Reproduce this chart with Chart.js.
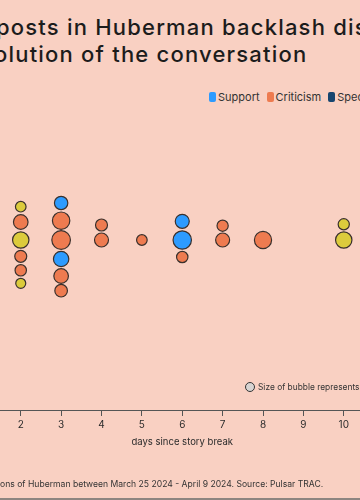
<!DOCTYPE html>
<html>
<head>
<meta charset="utf-8">
<script src="https://cdn.jsdelivr.net/npm/chart.js@4.4.1/dist/chart.umd.min.js"></script>
<style>
    html, body { margin: 0; padding: 0; }
    body {
        width: 360px; height: 500px; overflow: hidden; position: relative;
        background: #f9d0c2; font-family: 'Inter', sans-serif; color: #1c1c1c;
    }
    .title-line {
        position: absolute; white-space: nowrap;
        font-size: 22px; font-weight: 500; line-height: 27.6px; letter-spacing: 1.2px;
    }
    .hidden-part { position: absolute; right: 100%; top: 0; }
    #legend {
        position: absolute; left: 209px; top: 90px; display: flex; white-space: nowrap;
        font-size: 11px; line-height: 14px; color: #333;
    }
    .legend-item { display: flex; align-items: center; margin-right: 7px; }
    .legend-box { width: 7px; height: 10px; border-radius: 2px; margin-right: 2px; }
    #sizeNote {
        position: absolute; left: 245px; top: 380px; display: flex; align-items: center;
        white-space: nowrap; font-size: 8.4px; line-height: 14px; color: #333;
    }
    #sizeNote .dot {
        width: 8px; height: 8px; border-radius: 50%; background: #d8d4d2;
        border: 1px solid #333; margin-right: 3px;
    }
    #footer {
        position: absolute; left: 0; top: 477px; white-space: nowrap;
        font-size: 8.6px; line-height: 14px; color: #333;
    }
    #frame { position: absolute; left: 0; right: 0; top: 498px; height: 2px; background: #8d8580; }
    #chartCanvas { position: absolute; left: -100px; top: 0; }
</style>
</head>
<body>
<div class="title-line" style="left:-4px; top:13.7px;"><span class="hidden-part">Number of&nbsp;</span>posts in Huberman backlash discussion</div>
<div class="title-line" style="left:-6px; top:41.3px;"><span class="hidden-part">Ev</span>olution of the conversation</div>
<div id="legend"></div>
<canvas id="chartCanvas" width="565" height="500"></canvas>
<div id="sizeNote"><span class="dot"></span>Size of bubble represents number of posts</div>
<div id="footer"><span class="hidden-part">Data covers all menti</span>ons of Huberman between March 25 2024 - April 9 2024. Source: Pulsar TRAC.</div>
<div id="frame"></div>

<script>
// ==================== DATA ====================

const categories = ['Support', 'Criticism', 'Speculation', 'Neutral'];
const categoryColors = ['#2d9bff', '#ee7b50', '#17456f', '#dccb3c'];

// days since story break, stacked position within the day, bubble size
const supportDays = [3, 3, 6, 6];
const supportStack = [37, -19, 18.7, 0];
const supportSize = [6.7, 7.7, 7, 9.2];

const criticismDays = [2, 2, 2, 3, 3, 3, 3, 4, 4, 5, 6, 7, 7, 8];
const criticismStack = [18, -16.3, -30.3, 19.3, 0, -36, -50.7, 15, 0, 0, -17, 14.3, 0, 0];
const criticismSize = [7.3, 6, 5.7, 8.7, 9.3, 7.3, 6.3, 6, 7, 5.3, 5.7, 5.6, 7, 8.6];

const speculationDays = [];
const speculationStack = [];
const speculationSize = [];

const neutralDays = [2, 2, 2, 10, 10];
const neutralStack = [33.3, 0, -43.3, 15.7, 0];
const neutralSize = [5.3, 8.2, 5, 5.6, 8.2];

const dayRange = [0, 12];

// ==================== HELPERS ====================

function toPoints(days, stack, size) {
    return days.map((d, i) => ({ x: d, y: stack[i], r: size[i] }));
}

function buildLegend() {
    const legend = document.getElementById('legend');
    let html = '';
    categories.forEach((name, i) => {
        html += `
            <div class="legend-item">
                <span class="legend-box" style="background: ${categoryColors[i]};"></span>${name}
            </div>`;
    });
    legend.innerHTML = html;
}

// ==================== CHART ====================

function createChart() {
    const ctx = document.getElementById('chartCanvas');
    const seriesData = [
        toPoints(supportDays, supportStack, supportSize),
        toPoints(criticismDays, criticismStack, criticismSize),
        toPoints(speculationDays, speculationStack, speculationSize),
        toPoints(neutralDays, neutralStack, neutralSize)
    ];

    new Chart(ctx, {
        type: 'bubble',
        data: {
            datasets: categories.map((name, i) => ({
                label: name,
                data: seriesData[i],
                backgroundColor: categoryColors[i],
                borderColor: '#3a302c',
                borderWidth: 1.2
            }))
        },
        options: {
            responsive: false,
            animation: false,
            layout: {
                padding: { left: 40, right: 40.5, top: 110, bottom: 48.3 }
            },
            plugins: {
                legend: { display: false },
                tooltip: { enabled: false }
            },
            scales: {
                x: {
                    type: 'linear',
                    min: dayRange[0],
                    max: dayRange[1],
                    ticks: {
                        stepSize: 1,
                        padding: 3,
                        color: '#2b2b2b',
                        font: { family: 'Inter', size: 10 }
                    },
                    grid: {
                        drawOnChartArea: false,
                        drawTicks: true,
                        tickLength: 6,
                        color: '#555'
                    },
                    border: { color: '#555', width: 1 },
                    title: {
                        display: true,
                        text: 'days since story break',
                        color: '#2b2b2b',
                        font: { family: 'Inter', size: 9.5 },
                        padding: { top: 2.3, bottom: 4 }
                    }
                },
                y: {
                    display: false,
                    min: -170,
                    max: 130
                }
            }
        }
    });
}

window.addEventListener('DOMContentLoaded', () => {
    buildLegend();
    createChart();
});
</script>
</body>
</html>
